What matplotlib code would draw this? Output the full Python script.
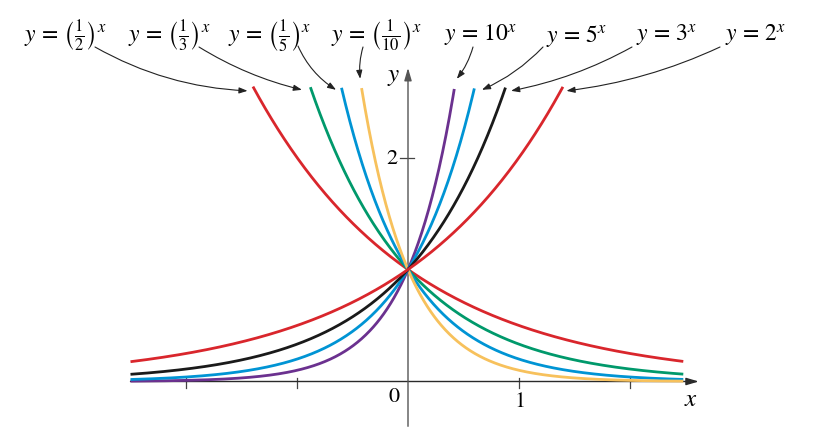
import numpy as np
import matplotlib
matplotlib.use("Agg")
from matplotlib import pyplot as plt

plt.rcParams['mathtext.fontset'] = 'stix'
plt.rcParams['font.family'] = ['STIXGeneral', 'DejaVu Serif']

# bases of the exponential curves, left group and right group
bases_left = [1/2, 1/3, 1/5, 1/10]
bases_right = [10, 5, 3, 2]
labels_left = [r'$y\,=\,\left(\frac{1}{2}\right)^x$', r'$y\,=\,\left(\frac{1}{3}\right)^x$',
               r'$y\,=\,\left(\frac{1}{5}\right)^x$', r'$y\,=\,\left(\frac{1}{10}\right)^x$']
labels_right = [r'$y\,=\,10^x$', r'$y\,=\,5^x$', r'$y\,=\,3^x$', r'$y\,=\,2^x$']
colors_left = ['#d9262c', '#00996b', '#0094d4', '#f7c15c']
colors_right = ['#6b318f', '#0094d4', '#1a1a1a', '#d9262c']

x_min, x_max = -2.5, 2.48
y_top = 2.64

# pixel layout: origin at (408, 381), 111 px per unit
W, H = 835, 447
ox, oy, ux, uy = 408, 381.5, 111, 112

fig = plt.figure(figsize=(W / 100, H / 100), dpi=100)
ax = fig.add_axes([0, 0, 1, 1])
ax.set_xlim(-ox / ux, (W - ox) / ux)
ax.set_ylim((oy - H) / uy, oy / uy)
ax.axis('off')


def px(xp, yp):
    return ((xp - ox) / ux, (oy - yp) / uy)


# x axis
ax.annotate('', xy=(2.62, 0), xytext=(x_min, 0),
            arrowprops=dict(arrowstyle='-|>,head_length=0.75,head_width=0.22',
                            color='#2a2a2a', lw=1.0, shrinkA=0, shrinkB=0))
# y axis
ax.annotate('', xy=(0, 2.8), xytext=(0, -0.4),
            arrowprops=dict(arrowstyle='-|>,head_length=0.75,head_width=0.22',
                            color='#555555', lw=1.0, shrinkA=0, shrinkB=0))
for t in [-2, -1, 1, 2]:
    ax.plot([t, t], [-0.06, 0.03], color='#444444', lw=0.9)
ax.plot([-0.07, 0.05], [2, 2], color='#444444', lw=0.9)

ax.text(*px(394, 397), '0', fontsize=16, ha='center', va='center')
ax.text(*px(520, 402), '1', fontsize=16, ha='center', va='center')
ax.text(*px(392, 159), '2', fontsize=16, ha='center', va='center')
ax.text(*px(691, 400), r'$x$', fontsize=18, ha='center', va='center')
ax.text(*px(394, 76), r'$y$', fontsize=18, ha='center', va='center')

x = np.linspace(x_min, x_max, 800)

label_xs_left = [65, 169, 270, 376]
arrow_from_left = [(95, 47), (199, 47), (298, 46), (363, 47)]
tip_off_left = [(-5, 5), (-8, 4), (-5, 4), (-1, -7)]
rads_left = [0.12, 0.08, 0.15, 0.1]
label_xs_right = [481, 577, 667, 756]
arrow_from_right = [(473, 47), (543, 47), (632, 47), (720, 47)]
tip_off_right = [(2, -7), (7, 4), (5, 5), (3, 5)]
rads_right = [-0.1, -0.1, -0.08, -0.08]

groups = [(bases_left, labels_left, colors_left, label_xs_left, arrow_from_left, tip_off_left, rads_left),
          (bases_right, labels_right, colors_right, label_xs_right, arrow_from_right, tip_off_right, rads_right)]

for bases, labels, colors, lxs, afrom, toff, rads in groups:
    for b, lab, c, lx, af, to, rad in zip(bases, labels, colors, lxs, afrom, toff, rads):
        y = b ** x
        m = y <= y_top
        ax.plot(x[m], y[m], color=c, lw=2.0, solid_capstyle='butt', zorder=3)
        # end of the curve at the top
        xe = np.log(y_top) / np.log(b)
        ax.text(*px(lx, 36), lab, fontsize=17, ha='center', va='center')
        tip = (xe + to[0] / ux, y_top - to[1] / uy)
        ax.annotate('', xy=tip, xytext=px(*af),
                    arrowprops=dict(arrowstyle='-|>,head_length=0.5,head_width=0.18',
                                    color='#222222', lw=0.8, shrinkA=0, shrinkB=0,
                                    connectionstyle='arc3,rad=%.2f' % rad))

fig.savefig('out.png', dpi=100)
